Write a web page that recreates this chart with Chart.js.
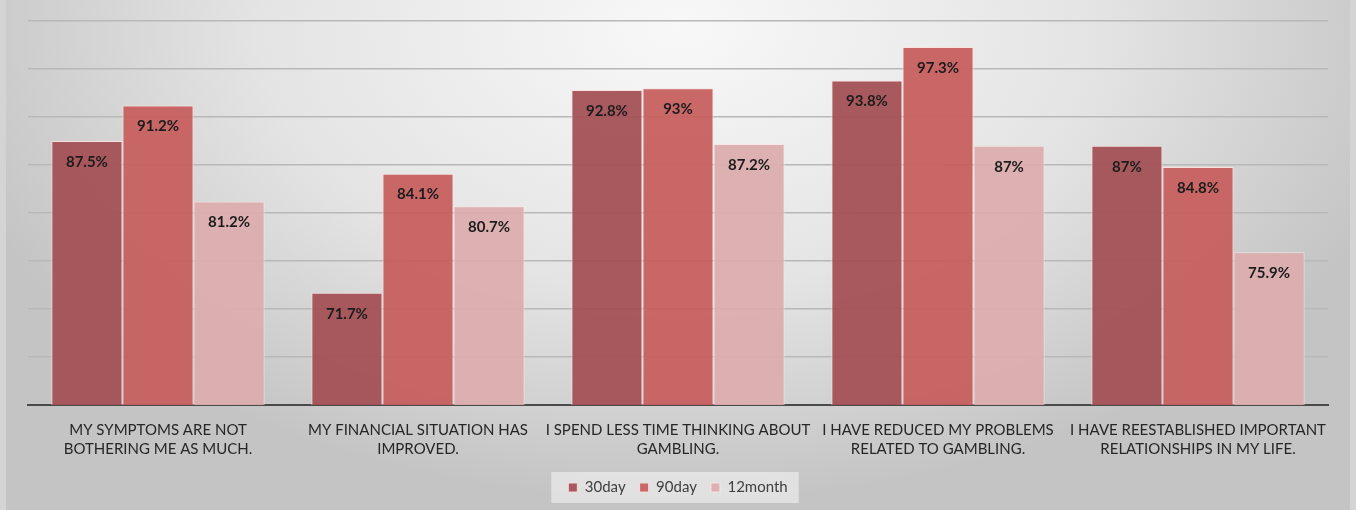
<!DOCTYPE html>
<html>
<head>
<meta charset="utf-8">
<script src="https://cdn.jsdelivr.net/npm/chart.js@4/dist/chart.umd.min.js"></script>
<style>
  body { margin: 0; background: #fff; }
  #wrap { width: 1356px; height: 510px; }
</style>
</head>
<body>
<div id="wrap"><canvas id="outcomeChart"></canvas></div>
<script>
const statements = [
  ['MY SYMPTOMS ARE NOT', 'BOTHERING ME AS MUCH.'],
  ['MY FINANCIAL SITUATION HAS', 'IMPROVED.'],
  ['I SPEND LESS TIME THINKING ABOUT', 'GAMBLING.'],
  ['I HAVE REDUCED MY PROBLEMS', 'RELATED TO GAMBLING.'],
  ['I HAVE REESTABLISHED IMPORTANT', 'RELATIONSHIPS IN MY LIFE.']
];
const day30 = [87.5, 71.7, 92.8, 93.8, 87];
const day90 = [91.2, 84.1, 93, 97.3, 84.8];
const month12 = [81.2, 80.7, 87.2, 87, 75.9];

// grey radial backdrop + the light box behind the legend
const backdrop = {
  id: 'backdrop',
  beforeDraw(chart) {
    const ctx = chart.ctx;
    const w = chart.width, h = chart.height;
    ctx.save();
    ctx.fillStyle = '#d4d4d4';
    ctx.fillRect(0, 0, w, h);
    ctx.translate(w / 2, 30);
    ctx.scale(1, 0.62);
    const g = ctx.createRadialGradient(0, 0, 0, 0, 0, 760);
    g.addColorStop(0, '#f8f8f8');
    g.addColorStop(0.55, '#e4e4e4');
    g.addColorStop(1, '#c4c4c4');
    ctx.fillStyle = g;
    ctx.fillRect(-w / 2 + 6, -30 / 0.62, w - 12, h / 0.62 + 60);
    ctx.restore();

    const boxes = chart.legend && chart.legend.legendHitBoxes;
    if (boxes && boxes.length) {
      const first = boxes[0], last = boxes[boxes.length - 1];
      ctx.save();
      ctx.fillStyle = 'rgba(236,236,236,0.7)';
      ctx.fillRect(first.left - 17, first.top - 8, last.left + last.width - first.left + 28, first.height + 16);
      ctx.restore();
    }
  }
};

// percentage written near the top of every bar
const barValues = {
  id: 'barValues',
  afterDatasetsDraw(chart) {
    const ctx = chart.ctx;
    ctx.save();
    ctx.font = 'bold 15px Lato';
    ctx.fillStyle = '#1c1c1c';
    ctx.textAlign = 'center';
    ctx.textBaseline = 'middle';
    chart.data.datasets.forEach((ds, i) => {
      chart.getDatasetMeta(i).data.forEach((bar, j) => {
        ctx.fillText(ds.data[j] + '%', bar.x, bar.y + 21);
      });
    });
    ctx.restore();
  }
};

new Chart(document.getElementById('outcomeChart'), {
  type: 'bar',
  data: {
    labels: statements,
    datasets: [
      {
        label: '30day',
        data: day30,
        backgroundColor: 'rgba(164,80,84,0.94)',
        borderColor: 'rgba(250,225,225,0.9)',
        borderWidth: 1
      },
      {
        label: '90day',
        data: day90,
        backgroundColor: 'rgba(199,94,93,0.94)',
        borderColor: 'rgba(250,225,225,0.9)',
        borderWidth: 1
      },
      {
        label: '12month',
        data: month12,
        backgroundColor: 'rgba(220,172,173,0.94)',
        borderColor: 'rgba(250,230,230,0.9)',
        borderWidth: 1
      }
    ]
  },
  options: {
    responsive: true,
    maintainAspectRatio: false,
    animation: false,
    layout: { padding: { top: 21, left: 28, right: 28, bottom: 5 } },
    datasets: { bar: { categoryPercentage: 0.82, barPercentage: 1 } },
    plugins: {
      tooltip: { enabled: false },
      legend: {
        position: 'bottom',
        labels: {
          boxWidth: 9,
          boxHeight: 9,
          padding: 14,
          color: '#404040',
          font: { family: 'Lato', size: 15 }
        }
      }
    },
    scales: {
      x: {
        grid: { display: false },
        border: { color: '#4a4a4a', width: 2 },
        ticks: {
          color: '#262626',
          padding: 7,
          maxRotation: 0,
          autoSkip: false,
          font: { family: 'Lato', size: 15, lineHeight: 1.3 }
        }
      },
      y: {
        min: 60,
        max: 100,
        ticks: { display: false, stepSize: 5 },
        grid: { color: '#b8b8b8', lineWidth: 1.5, drawTicks: false },
        border: { display: false }
      }
    }
  },
  plugins: [backdrop, barValues]
});
</script>
</body>
</html>
